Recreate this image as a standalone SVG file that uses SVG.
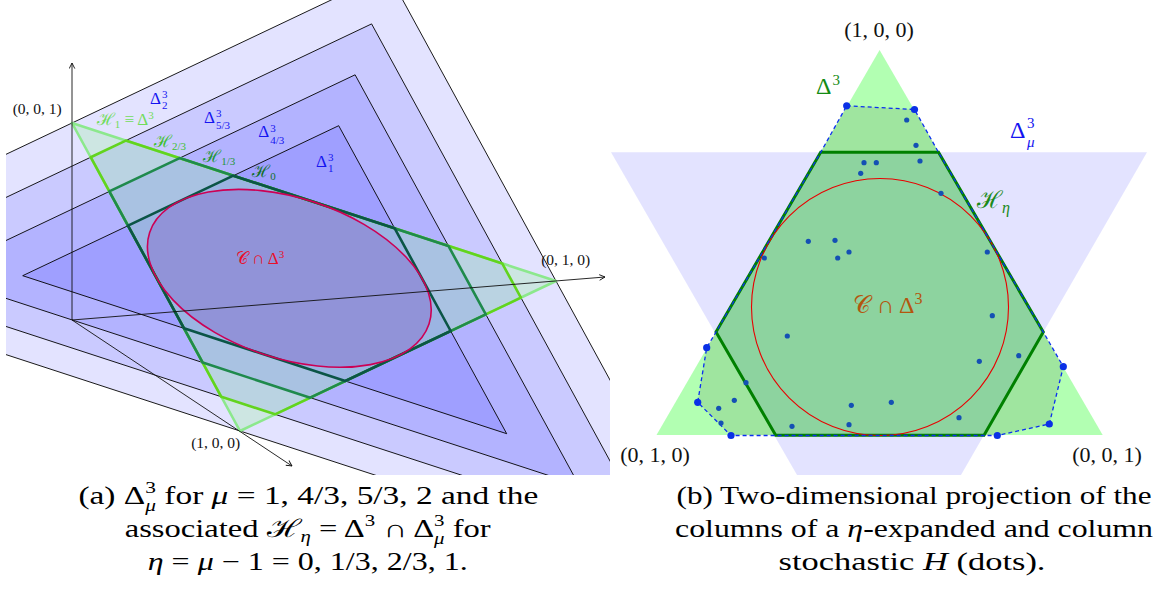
<svg xmlns="http://www.w3.org/2000/svg" width="1160" height="596" viewBox="0 0 1160 596">
<style>
text{font-family:"Liberation Serif","DejaVu Serif",serif;}
.blu{fill:#0000ff;fill-opacity:0.11;stroke:#000;stroke-width:0.9;}
.lav{fill:#0000ff;fill-opacity:0.11;stroke:none;}
.ax{stroke:#111;stroke-width:0.9;fill:none;}
.hx{fill:none;stroke-width:2.6;stroke-linejoin:round;}
.crd{font-size:15.5px;fill:#111;}
.crd2{font-size:22px;fill:#111;}
.bl{font-size:17px;fill:#1414f0;}
.s{font-size:11px;}
.cap{font-size:25px;fill:#000;}
.it{font-style:italic;}
.sd{fill:#1450b4;}
.bd{fill:#0a30e6;}
</style>
<defs>
<clipPath id="clipL"><rect x="6" y="0" width="604" height="475"/></clipPath>
<marker id="arr" viewBox="0 0 10 10" refX="9" refY="5" markerWidth="7" markerHeight="7" orient="auto" markerUnits="userSpaceOnUse"><path d="M1,1 L9,5 L1,9" fill="none" stroke="#111" stroke-width="1.3"/></marker>
</defs>

<g id="left-panel">
  <g id="delta-mu" clip-path="url(#clipL)">
    <polygon class="blu" points="388,-27 -244,273 724,589"/>
    <polygon class="blu" points="371.6,23.9 -155.1,273.9 651.6,537.2"/>
    <polygon class="blu" points="355.1,74.8 -66.2,274.8 579.1,485.4"/>
    <polygon class="blu" points="338.7,125.7 22.7,275.7 506.7,433.7"/>
  </g>
  <polygon id="simplex-fill" points="240,431 556,281 72,123" fill="#90ee90" fill-opacity="0.26"/>
  <ellipse id="ellipse-fill" cx="0" cy="0" rx="147" ry="80.2" transform="translate(289.33 278.33) rotate(18.15)" fill="#7a48c0" fill-opacity="0.3"/>
  <g id="hexagons">
    <polygon id="H1" class="hx" stroke="#8ce88c" points="240,431 556,281 72,123"/>
    <polygon id="H23" class="hx" stroke="#62d41e" points="275.1,414.3 520.9,297.7 502.2,263.4 125.8,140.6 90.7,157.2 221.3,396.8"/>
    <polygon id="H13" class="hx" stroke="#1f8a4c" points="310.2,397.7 485.8,314.3 448.4,245.9 179.6,158.1 109.3,191.4 202.7,362.6"/>
    <polygon id="H0" class="hx" stroke="#0b5546" points="345.3,381 450.7,331 394.7,228.3 233.3,175.7 128,225.7 184,328.3"/>
  </g>
  <ellipse id="ellipse" cx="0" cy="0" rx="147" ry="80.2" transform="translate(289.33 278.33) rotate(18.15)" fill="none" stroke="#cc0055" stroke-width="1.6"/>
  <g id="axes">
    <line class="ax" x1="72" y1="320" x2="72" y2="63" marker-end="url(#arr)"/>
    <line class="ax" x1="72" y1="320" x2="605" y2="277" marker-end="url(#arr)"/>
    <line class="ax" x1="72" y1="320" x2="292" y2="466" marker-end="url(#arr)"/>
  </g>
  <g id="left-labels">
    <text class="crd" x="37.2" y="114" text-anchor="middle">(0, 0, 1)</text>
    <text class="crd" x="565.7" y="265" text-anchor="middle">(0, 1, 0)</text>
    <text class="crd" x="215.7" y="448" text-anchor="middle">(1, 0, 0)</text>
    <text class="bl" x="150" y="104">Δ<tspan class="s" x="162" y="97.5">3</tspan><tspan class="s" x="162" y="109">2</tspan></text>
    <text class="bl" x="204" y="122.7">Δ<tspan class="s" x="216" y="116.5">3</tspan><tspan class="s" x="216" y="128.5">5/3</tspan></text>
    <text class="bl" x="258.3" y="137.3">Δ<tspan class="s" x="270.3" y="131.5">3</tspan><tspan class="s" x="270.3" y="143.5">4/3</tspan></text>
    <text class="bl" x="316" y="166.7">Δ<tspan class="s" x="328" y="160.5">3</tspan><tspan class="s" x="328" y="172">1</tspan></text>
    <text x="96.7" y="125" font-size="17" fill="#72dc5c">ℋ<tspan class="s" dy="3">1</tspan><tspan dy="-3"> ≡ Δ</tspan><tspan class="s" dy="-6">3</tspan></text>
    <text x="154" y="147" font-size="17" fill="#3fc032">ℋ<tspan font-size="11" dy="3">2/3</tspan></text>
    <text x="203.3" y="162" font-size="17" fill="#1f9638">ℋ<tspan font-size="11" dy="3">1/3</tspan></text>
    <text x="252.3" y="177" font-size="17" fill="#12702c">ℋ<tspan font-size="11" dy="3">0</tspan></text>
    <text x="236" y="264" font-size="17" fill="#e8102a">𝒞 ∩ Δ<tspan class="s" dy="-6">3</tspan></text>
  </g>
</g>

<g id="right-panel">
  <polygon id="delta-mu-r" class="lav" points="611,152.3 1147,152.3 961,475 797,475"/>
  <polygon id="simplex-r" points="879.6,50 1102.7,435 656.5,435" fill="#00ff00" fill-opacity="0.3"/>
  <polygon id="hull-fill" points="846.7,105.8 914.5,109.5 938.5,152.3 1043.3,332 1063.3,366.7 1049.3,424 997.3,435.5 731,435.5 697.7,402.3 706.7,347.7 716,332 820.7,152.3" fill="#000" fill-opacity="0.1"/>
  <polygon id="H-eta" points="820.7,152.3 938.5,152.3 1043.3,332 984,435.3 775.7,435.3 716,332" fill="none" stroke="#008000" stroke-width="3"/>
  <circle id="circle" cx="880" cy="307" r="128.5" fill="none" stroke="#e80000" stroke-width="1.1"/>
  <polygon id="hull" points="846.7,105.8 914.5,109.5 938.5,152.3 1043.3,332 1063.3,366.7 1049.3,424 997.3,435.5 731,435.5 697.7,402.3 706.7,347.7 716,332 820.7,152.3" fill="none" stroke="#0a2ef0" stroke-width="1.3" stroke-dasharray="4 3"/>
  <g id="dots">
    <circle class="sd" cx="906.7" cy="120" r="2.6"/><circle class="sd" cx="916" cy="145.3" r="2.6"/>
    <circle class="sd" cx="864" cy="162.7" r="2.6"/><circle class="sd" cx="876.3" cy="162.7" r="2.6"/>
    <circle class="sd" cx="920" cy="161" r="2.6"/><circle class="sd" cx="860.7" cy="173.3" r="2.6"/>
    <circle class="sd" cx="941" cy="193.3" r="2.6"/><circle class="sd" cx="808.3" cy="241.3" r="2.6"/>
    <circle class="sd" cx="835" cy="240.3" r="2.6"/><circle class="sd" cx="837.7" cy="258" r="2.6"/>
    <circle class="sd" cx="849" cy="252" r="2.6"/><circle class="sd" cx="764.3" cy="258" r="2.6"/>
    <circle class="sd" cx="987.3" cy="252" r="2.6"/><circle class="sd" cx="787.3" cy="336" r="2.6"/>
    <circle class="sd" cx="746" cy="382.7" r="2.6"/><circle class="sd" cx="734.3" cy="400.3" r="2.6"/>
    <circle class="sd" cx="718.7" cy="408.3" r="2.6"/><circle class="sd" cx="721" cy="423" r="2.6"/>
    <circle class="sd" cx="792" cy="426.3" r="2.6"/><circle class="sd" cx="851.3" cy="405.3" r="2.6"/>
    <circle class="sd" cx="891.3" cy="402.3" r="2.6"/><circle class="sd" cx="849" cy="424.7" r="2.6"/>
    <circle class="sd" cx="959" cy="417.7" r="2.6"/><circle class="sd" cx="979.3" cy="361.3" r="2.6"/>
    <circle class="sd" cx="1018.7" cy="355.7" r="2.6"/><circle class="sd" cx="992.3" cy="315.7" r="2.6"/>
    <circle class="bd" cx="846.7" cy="105.8" r="3.6"/><circle class="bd" cx="914.5" cy="109.5" r="3.6"/>
    <circle class="bd" cx="1063.3" cy="366.7" r="3.6"/><circle class="bd" cx="1049.3" cy="424" r="3.6"/>
    <circle class="bd" cx="997.3" cy="435.5" r="3.6"/><circle class="bd" cx="731" cy="435.5" r="3.6"/>
    <circle class="bd" cx="697.7" cy="402.3" r="3.6"/><circle class="bd" cx="706.7" cy="347.7" r="3.6"/>
  </g>
  <g id="right-labels">
    <text class="crd2" x="879" y="37" text-anchor="middle">(1, 0, 0)</text>
    <text class="crd2" x="655" y="462" text-anchor="middle">(0, 1, 0)</text>
    <text class="crd2" x="1107" y="462" text-anchor="middle">(0, 0, 1)</text>
    <text x="816" y="94" font-size="24" fill="#148c14">Δ<tspan font-size="15" x="832.5" y="85">3</tspan></text>
    <text x="1010" y="138.3" font-size="24" fill="#1414f0">Δ<tspan font-size="15" x="1027" y="127.5">3</tspan><tspan font-size="15" class="it" x="1027" y="147">μ</tspan></text>
    <text x="977" y="208" font-size="24" fill="#1a8a1a">ℋ<tspan font-size="16" class="it" dy="5">η</tspan></text>
    <text x="853" y="313" font-size="24" fill="#b4560e">𝒞 ∩ Δ<tspan font-size="16" dy="-9">3</tspan></text>
  </g>
</g>

<g id="captions">
  <text class="cap" x="308.4" y="504" text-anchor="middle" textLength="460" lengthAdjust="spacingAndGlyphs">(a) Δ<tspan font-size="16" dy="-11">3</tspan><tspan font-size="16" class="it" dx="-8" dy="18">μ</tspan><tspan dy="-7"> for </tspan><tspan class="it">μ</tspan> = 1, 4/3, 5/3, 2 and the</text>
  <text class="cap" x="307.7" y="537" text-anchor="middle" textLength="366" lengthAdjust="spacingAndGlyphs">associated ℋ<tspan font-size="16" class="it" dy="5">η</tspan><tspan dy="-5"> = Δ</tspan><tspan font-size="16" dy="-11">3</tspan><tspan dy="11"> ∩ Δ</tspan><tspan font-size="16" dy="-11">3</tspan><tspan font-size="16" class="it" dx="-8" dy="18">μ</tspan><tspan dy="-7"> for</tspan></text>
  <text class="cap" x="307.7" y="570" text-anchor="middle" textLength="320" lengthAdjust="spacingAndGlyphs"><tspan class="it">η</tspan> = <tspan class="it">μ</tspan> − 1 = 0, 1/3, 2/3, 1.</text>
  <text class="cap" x="914" y="504" text-anchor="middle" textLength="475" lengthAdjust="spacingAndGlyphs">(b) Two-dimensional projection of the</text>
  <text class="cap" x="914" y="537" text-anchor="middle" textLength="478" lengthAdjust="spacingAndGlyphs">columns of a <tspan class="it">η</tspan>-expanded and column</text>
  <text class="cap" x="912" y="570" text-anchor="middle" textLength="267" lengthAdjust="spacingAndGlyphs">stochastic <tspan class="it">H</tspan> (dots).</text>
</g>
</svg>
